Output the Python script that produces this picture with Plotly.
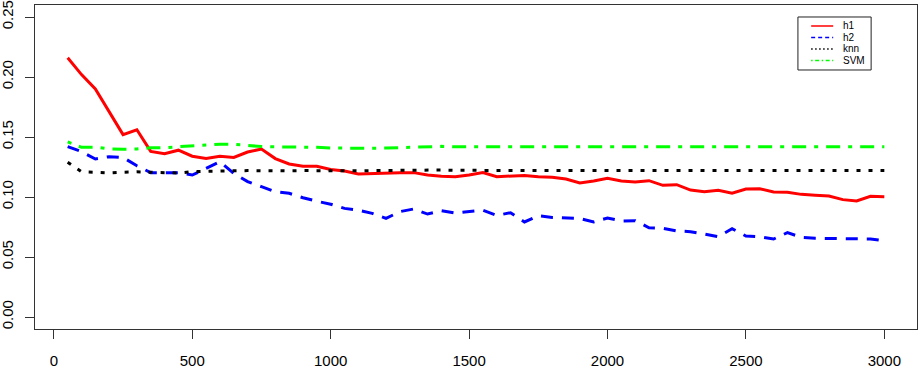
import plotly.graph_objects as go

n_train = [50, 100, 150, 200, 250, 300, 350, 400, 450, 500,
           550, 600, 650, 700, 750, 800, 850, 900, 950, 1000,
           1050, 1100, 1150, 1200, 1250, 1300, 1350, 1400, 1450, 1500,
           1550, 1600, 1650, 1700, 1750, 1800, 1850, 1900, 1950, 2000,
           2050, 2100, 2150, 2200, 2250, 2300, 2350, 2400, 2450, 2500,
           2550, 2600, 2650, 2700, 2750, 2800, 2850, 2900, 2950, 3000]

h1 = [0.216, 0.202, 0.190, 0.171, 0.152, 0.156, 0.138, 0.136, 0.139, 0.134,
      0.132, 0.134, 0.133, 0.1375, 0.140, 0.132, 0.1275, 0.1256, 0.1256, 0.123,
      0.1217, 0.1192, 0.1197, 0.1197, 0.1203, 0.1203, 0.1183, 0.1172, 0.1169, 0.1183,
      0.1203, 0.1169, 0.1175, 0.118, 0.1169, 0.1164, 0.115, 0.1117, 0.1133, 0.1155,
      0.1133, 0.1125, 0.1136, 0.1097, 0.1103, 0.1058, 0.1044, 0.1056, 0.1031, 0.1067,
      0.1069, 0.1042, 0.1039, 0.1022, 0.1014, 0.1008, 0.0978, 0.0967, 0.1006, 0.1003]

h2 = [0.142, 0.1378, 0.1317, 0.1336, 0.133, 0.126, 0.1203, 0.1205, 0.1203, 0.1183,
      0.124, 0.1294, 0.1197, 0.1128, 0.1086, 0.1044, 0.1031, 0.0994, 0.0965, 0.094,
      0.0905, 0.089, 0.0864, 0.0822, 0.0878, 0.090, 0.0858, 0.0886, 0.0867, 0.0878,
      0.089, 0.0847, 0.0869, 0.0792, 0.0844, 0.083, 0.0822, 0.082, 0.0792, 0.0825,
      0.080, 0.0803, 0.0744, 0.0739, 0.0717, 0.0711, 0.0692, 0.0669, 0.0736, 0.0675,
      0.0669, 0.065, 0.0703, 0.0664, 0.0656, 0.0656, 0.065, 0.0653, 0.065, 0.0636]

knn = [0.129, 0.121, 0.1206, 0.120, 0.1206, 0.121, 0.1206, 0.120, 0.120, 0.1211,
       0.1215, 0.122, 0.1218, 0.122, 0.1218, 0.122, 0.1218, 0.122, 0.1218, 0.122,
       0.122, 0.1218, 0.122, 0.1222, 0.1222, 0.1225, 0.1225, 0.1225, 0.1222, 0.1222,
       0.122, 0.122, 0.122, 0.1222, 0.122, 0.122, 0.122, 0.1218, 0.122, 0.122,
       0.122, 0.122, 0.122, 0.1222, 0.122, 0.122, 0.122, 0.122, 0.122, 0.1222,
       0.122, 0.122, 0.122, 0.122, 0.122, 0.122, 0.122, 0.122, 0.122, 0.122]

svm = [0.146, 0.1414, 0.1416, 0.140, 0.1398, 0.140, 0.141, 0.141, 0.1419, 0.1428,
       0.1433, 0.1439, 0.1439, 0.143, 0.142, 0.1418, 0.1418, 0.1415, 0.1414, 0.1408,
       0.1406, 0.1406, 0.1406, 0.1408, 0.1412, 0.1414, 0.1418, 0.1422, 0.1418, 0.1417,
       0.1417, 0.1418, 0.1418, 0.1418, 0.1418, 0.1418, 0.1418, 0.1419, 0.142, 0.142,
       0.142, 0.142, 0.1421, 0.1421, 0.142, 0.142, 0.142, 0.142, 0.142, 0.142,
       0.142, 0.142, 0.142, 0.142, 0.142, 0.142, 0.142, 0.142, 0.1419, 0.1419]

names = ["h1", "h2", "knn", "SVM"]
colors = ["#ff0000", "#0000ff", "#000000", "#00ff00"]
dashes = ["solid", "12px,9px", "4px,8px", "4px,8px,14px,8px"]
legend_dashes = ["solid", "4px,3px", "1.5px,2.5px", "1.5px,2.5px,4px,2.5px"]

x_ticks = [0, 500, 1000, 1500, 2000, 2500, 3000]
y_ticks = [0.00, 0.05, 0.10, 0.15, 0.20, 0.25]

fig = go.Figure()

for name, ys, col, dash in zip(names, [h1, h2, knn, svm], colors, dashes):
    fig.add_trace(
        go.Scatter(
            x=n_train,
            y=ys,
            mode="lines",
            name=name,
            line=dict(color=col, width=3, dash=dash),
            showlegend=False
        )
    )

# small R-style legend box, drawn by hand
fig.add_shape(type="rect", xref="paper", yref="paper",
              x0=0.865, x1=0.948, y0=0.7994, y1=0.963,
              line=dict(color="#222", width=1), fillcolor="white")
row_y = [0.9352, 0.8997, 0.8642, 0.8287]
for name, col, dash, ry in zip(names, colors, legend_dashes, row_y):
    fig.add_shape(type="line", xref="paper", yref="paper",
                  x0=0.880, x1=0.905, y0=ry, y1=ry,
                  line=dict(color=col, width=1.5, dash=dash))
    fig.add_annotation(xref="paper", yref="paper", x=0.914, y=ry,
                       text=name, showarrow=False, xanchor="left", yanchor="middle",
                       font=dict(size=10, color="black", family="Liberation Sans"))

fig.update_layout(
    width=922,
    height=369,
    margin=dict(l=35, r=5, t=5, b=40),
    plot_bgcolor="white",
    paper_bgcolor="white",
    font=dict(family="Liberation Sans", size=15, color="black"),
    xaxis=dict(
        range=[-68, 3118],
        tickvals=x_ticks,
        ticks="outside",
        ticklen=9,
        tickcolor="#333",
        ticklabelstandoff=9,
        showgrid=False,
        zeroline=False,
        showline=True,
        linecolor="#333",
        linewidth=1,
        mirror=True,
        automargin=False
    ),
    yaxis=dict(
        range=[-0.01, 0.26],
        tickvals=y_ticks,
        tickformat=".2f",
        tickangle=-90,
        ticks="outside",
        ticklen=9,
        tickcolor="#333",
        ticklabelstandoff=6,
        showgrid=False,
        zeroline=False,
        showline=True,
        linecolor="#333",
        linewidth=1,
        mirror=True,
        automargin=False
    )
)

# drop the default body margin so the figure sits at the window's corner
fig.write_html("out.html", config={"displayModeBar": False},
               post_script="document.body.style.margin='0';")
